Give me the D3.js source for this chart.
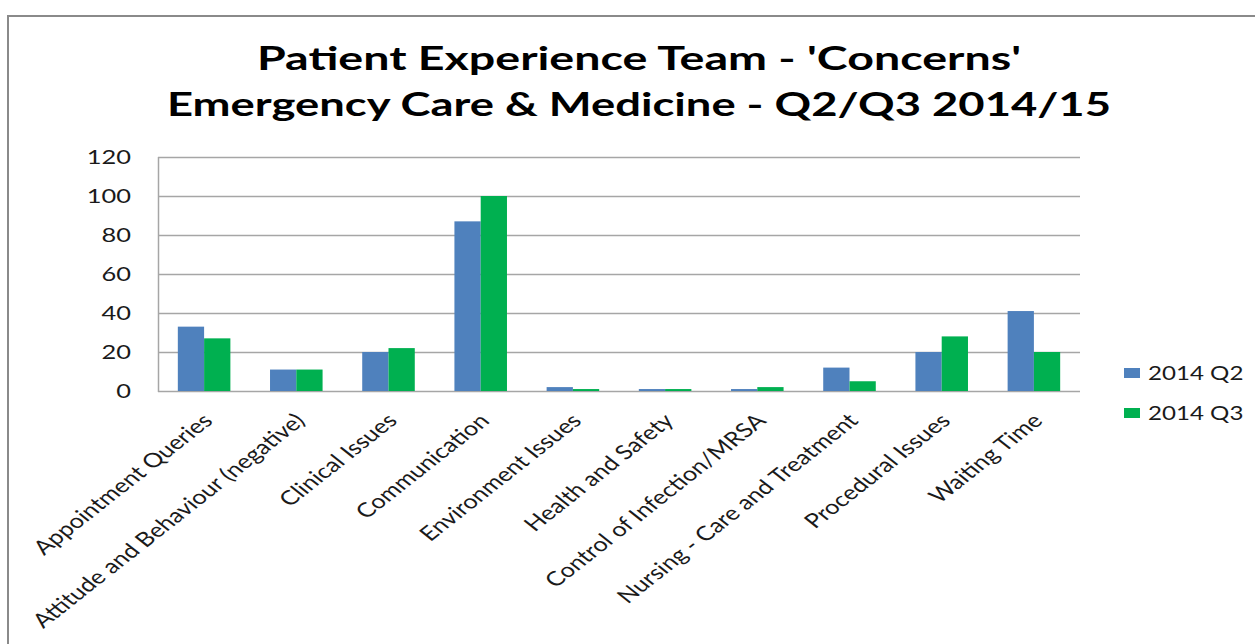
<html>
<head>
  <style>
    body {
      margin: 0;
      background: #ffffff;
    }
    text {
      font-family: Lato, "Open Sans", sans-serif;
      fill: #1a1a1a;
    }
  </style>
</head>
<body>
  <div id="chart"></div>

  <script src="https://d3js.org/d3.v7.min.js"></script>
  <script>
    // data
    var categories = ["Appointment Queries", "Attitude and Behaviour (negative)", "Clinical Issues",
      "Communication", "Environment Issues", "Health and Safety", "Control of Infection/MRSA",
      "Nursing - Care and Treatment", "Procedural Issues", "Waiting Time"];
    var seriesNames = ["2014 Q2", "2014 Q3"];
    var q2Values = [33, 11, 20, 87, 2, 1, 1, 12, 20, 41];
    var q3Values = [27, 11, 22, 100, 1, 1, 2, 5, 28, 20];
    var yTicks = [0, 20, 40, 60, 80, 100, 120];
    var titleLines = ["Patient Experience Team - 'Concerns'", "Emergency Care & Medicine - Q2/Q3 2014/15"];

    var width = 1255, height = 644;
    var sx = 1.27;   // the source picture is stretched sideways
    var colors = ["#4f81bd", "#00b050"];
    var plot = { left: 158, right: 1080, top: 157, bottom: 391 };

    var svg = d3.select("#chart").append("svg")
      .attr("width", width)
      .attr("height", height);

    svg.append("rect")
      .attr("x", 8).attr("y", 16)
      .attr("width", 1300).attr("height", 700)
      .attr("fill", "#fff")
      .attr("stroke", "#8a8a8a")
      .attr("stroke-width", 2);

    // title
    var titleWidths = [764, 944];
    svg.selectAll(".title")
      .data(titleLines)
      .enter().append("text")
      .attr("class", "title")
      .attr("x", 639)
      .attr("y", function (d, i) { return 70 + i * 46; })
      .attr("text-anchor", "middle")
      .attr("font-size", 32)
      .attr("font-weight", "bold")
      .attr("textLength", function (d, i) { return titleWidths[i]; })
      .attr("lengthAdjust", "spacingAndGlyphs")
      .style("fill", "#000")
      .text(function (d) { return d; });

    var x0 = d3.scaleBand()
      .domain(categories)
      .range([plot.left, plot.right])
      .paddingInner(0.43)
      .paddingOuter(0.215);

    var x1 = d3.scaleBand()
      .domain(seriesNames)
      .range([0, x0.bandwidth()]);

    var y = d3.scaleLinear()
      .domain([0, 120])
      .range([plot.bottom, plot.top]);

    // gridlines
    svg.append("g")
      .selectAll("line")
      .data(yTicks)
      .enter().append("line")
      .attr("x1", plot.left).attr("x2", plot.right)
      .attr("y1", function (d) { return Math.round(y(d)) + 0.5; })
      .attr("y2", function (d) { return Math.round(y(d)) + 0.5; })
      .attr("stroke", "#a6a6a6")
      .attr("stroke-width", 1.5);

    svg.append("line")
      .attr("x1", plot.left + 0.5).attr("x2", plot.left + 0.5)
      .attr("y1", plot.top).attr("y2", plot.bottom + 1)
      .attr("stroke", "#a6a6a6")
      .attr("stroke-width", 1.5);

    // y tick labels
    svg.append("g")
      .selectAll("g")
      .data(yTicks)
      .enter().append("g")
      .attr("transform", function (d) { return "translate(131," + y(d) + ") scale(" + sx + ",1)"; })
      .append("text")
      .attr("text-anchor", "end")
      .attr("dy", "0.36em")
      .attr("font-size", 20)
      .text(function (d) { return d; });

    // bars
    var rows = categories.map(function (c, i) {
      return { cat: c, vals: [q2Values[i], q3Values[i]] };
    });

    var groups = svg.append("g")
      .selectAll("g")
      .data(rows)
      .enter().append("g")
      .attr("transform", function (d) { return "translate(" + x0(d.cat) + ",0)"; });

    groups.selectAll("rect")
      .data(function (d) { return d.vals.map(function (v, k) { return { name: seriesNames[k], v: v, k: k }; }); })
      .enter().append("rect")
      .attr("x", function (d) { return x1(d.name); })
      .attr("width", x1.bandwidth())
      .attr("y", function (d) { return y(d.v); })
      .attr("height", function (d) { return y(0) - y(d.v); })
      .attr("fill", function (d) { return colors[d.k]; });

    // category labels
    svg.append("g")
      .selectAll("g")
      .data(categories)
      .enter().append("g")
      .attr("transform", function (d) {
        return "translate(" + (x0(d) + x0.bandwidth() / 2 + 10) + ",422) scale(" + sx + ",1) rotate(-45)";
      })
      .append("text")
      .attr("text-anchor", "end")
      .attr("font-size", 20)
      .text(function (d) { return d; });

    // legend
    var legend = svg.append("g")
      .selectAll("g")
      .data(seriesNames)
      .enter().append("g")
      .attr("transform", function (d, i) { return "translate(0," + (i * 40) + ")"; });

    legend.append("rect")
      .attr("x", 1124).attr("y", 368)
      .attr("width", 16).attr("height", 10)
      .attr("fill", function (d, i) { return colors[i]; });

    legend.append("g")
      .attr("transform", "translate(1148,380) scale(" + sx + ",1)")
      .append("text")
      .attr("font-size", 19)
      .text(function (d) { return d; });
  </script>
</body>
</html>
